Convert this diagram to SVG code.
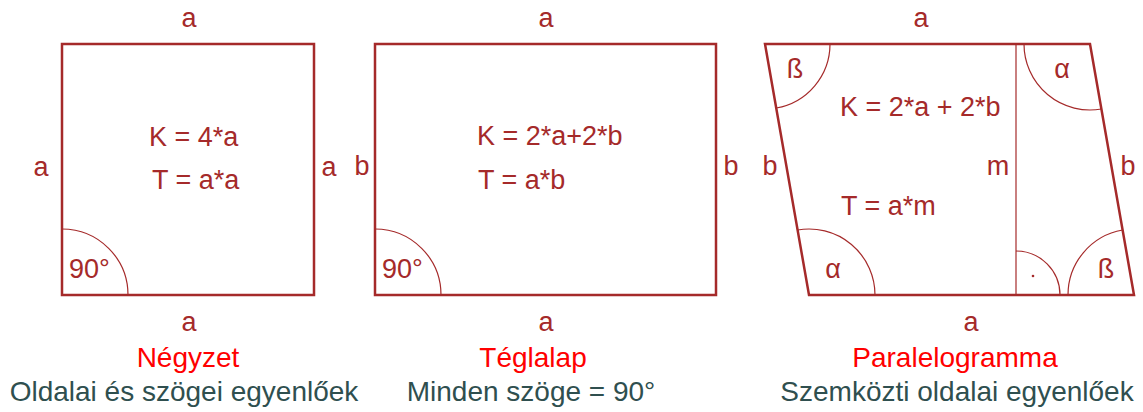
<svg xmlns="http://www.w3.org/2000/svg" width="1143" height="412" viewBox="0 0 1143 412">
<style>
.bg{fill:#ffffff}
.edge{fill:none;stroke:#a52a2a;stroke-width:2.5;stroke-linejoin:miter}
.thin{fill:none;stroke:#a52a2a;stroke-width:1.2}
.lbl{font-family:"Liberation Sans",Arial,sans-serif;font-size:27px;fill:#a52a2a}
.mid{text-anchor:middle}
.title{font-family:"Liberation Sans",Arial,sans-serif;font-size:28px;fill:#ff0000;text-anchor:middle}
.sub{font-family:"Liberation Sans",Arial,sans-serif;font-size:28px;fill:#2f4f4f;text-anchor:middle}
</style>
<rect class="bg" x="0" y="0" width="1143" height="412"/>
<g id="negyzet">
  <rect class="edge" x="62" y="44" width="252" height="251"/>
  <path class="thin" d="M 62 229 A 66 66 0 0 1 128 295"/>
  <text class="lbl mid" x="189" y="27">a</text>
  <text class="lbl mid" x="41" y="176">a</text>
  <text class="lbl mid" x="329" y="176">a</text>
  <text class="lbl" x="149" y="146">K = 4*a</text>
  <text class="lbl" x="152" y="189">T = a*a</text>
  <text class="lbl" x="69" y="278">90°</text>
  <text class="lbl mid" x="189" y="331">a</text>
  <text class="title" x="188" y="367">Négyzet</text>
  <text class="sub" x="184" y="401">Oldalai és szögei egyenlőek</text>
</g>
<g id="teglalap">
  <rect class="edge" x="375" y="44" width="341" height="251"/>
  <path class="thin" d="M 375 229 A 66 66 0 0 1 441 295"/>
  <text class="lbl mid" x="546" y="27">a</text>
  <text class="lbl mid" x="362" y="175">b</text>
  <text class="lbl mid" x="731" y="175">b</text>
  <text class="lbl" x="477" y="145">K = 2*a+2*b</text>
  <text class="lbl" x="478" y="189">T = a*b</text>
  <text class="lbl" x="382" y="278">90°</text>
  <text class="lbl mid" x="546" y="331">a</text>
  <text class="title" x="533" y="367">Téglalap</text>
  <text class="sub" x="531" y="401">Minden szöge = 90°</text>
</g>
<g id="paralelogramma">
  <polygon class="edge" points="765,44 1090,44 1134,295 809,295"/>
  <line class="thin" x1="1016" y1="44" x2="1016" y2="295"/>
  <path class="thin" d="M 830 44 A 65 65 0 0 1 776.2 108"/>
  <path class="thin" d="M 1024 44 A 66 66 0 0 0 1101.4 109"/>
  <path class="thin" d="M 797.6 230 A 66 66 0 0 1 875 295"/>
  <path class="thin" d="M 1068 295 A 66 66 0 0 1 1122.6 230"/>
  <path class="thin" d="M 1016 251 A 44 44 0 0 1 1060 295"/>
  <circle cx="1033" cy="276" r="1.3" fill="#a52a2a"/>
  <text class="lbl mid" x="921" y="27">a</text>
  <text class="lbl mid" x="770" y="175">b</text>
  <text class="lbl mid" x="1128" y="175">b</text>
  <text class="lbl mid" x="795" y="78">ß</text>
  <text class="lbl mid" x="1062" y="78">α</text>
  <text class="lbl mid" x="833" y="278">α</text>
  <text class="lbl mid" x="1106" y="278">ß</text>
  <text class="lbl" x="840" y="116">K = 2*a + 2*b</text>
  <text class="lbl mid" x="998" y="175">m</text>
  <text class="lbl" x="841" y="215">T = a*m</text>
  <text class="lbl mid" x="971" y="331">a</text>
  <text class="title" x="955" y="367">Paralelogramma</text>
  <text class="sub" x="957" y="401">Szemközti oldalai egyenlőek</text>
</g>
<g id="connectors"></g>
</svg>
